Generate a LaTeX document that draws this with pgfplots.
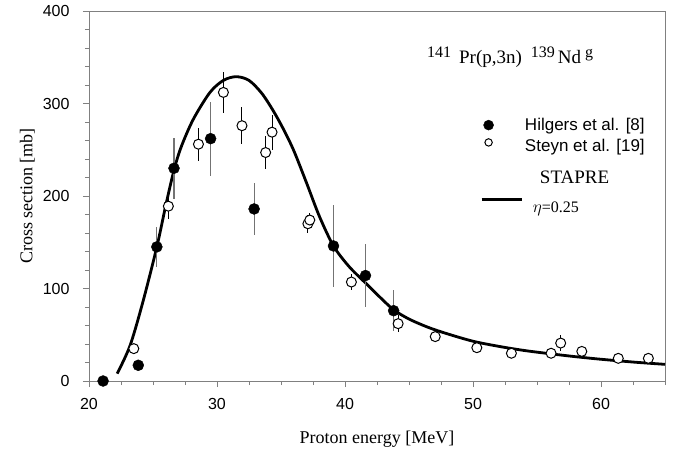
\documentclass[border=0pt]{standalone}
\usepackage{pgfplots}
\pgfplotsset{compat=1.18}
\usepackage{fontspec}
\setmainfont{Liberation Serif}
\newfontfamily\arial{Liberation Sans}

\pgfplotsset{
  legH/.style={legend image code/.code={\draw[##1, mark size=5pt] plot coordinates {(7pt,0pt)};}},
  legS/.style={legend image code/.code={\draw[##1, mark size=3.7pt] plot coordinates {(7pt,0pt)};}},
  legL/.style={legend image code/.code={\draw[##1] (0pt,0pt) -- (40pt,0pt);}},
}

\pgfplotstableread{
x y e
21.1 0 0
23.85 17 0
25.3 145 22
26.64 230 33
29.5 262 40
32.9 186 28
39.1 146 44
41.6 114 34
43.8 76 22
}\hilgers

\pgfplotstableread{
x y e
23.5 35 0
26.2 189 14
28.55 256 18
30.5 312 22
31.95 276 20
33.8 247 18
34.3 269 19
37.1 170 10
37.25 174 8
40.5 107 9
44.15 62 9
47.05 48 0
50.3 36 0
53.0 30 0
56.1 30 0
56.85 41 9
58.5 32 0
61.35 24.5 0
63.7 24.5 0
}\steyn

\newcommand\sups[1]{\raisebox{0.32em}{\fontsize{16}{16}\selectfont #1}}

\begin{document}
\begin{tikzpicture}
\useasboundingbox (-89pt,-72pt) rectangle (587pt,381pt);
\begin{axis}[
  at={(0pt,0pt)}, anchor=south west,
  scale only axis, width=576pt, height=370pt,
  xmin=20, xmax=65, ymin=0, ymax=400,
  xtick={20,30,40,50,60},
  minor xtick={22.5,25,27.5,32.5,35,37.5,42.5,45,47.5,52.5,55,57.5,62.5,65},
  ytick={0,100,200,300,400},
  minor ytick={20,40,60,80,120,140,160,180,220,240,260,280,320,340,360,380},
  tick align=outside, xtick pos=bottom, ytick pos=left,
  axis line style={gray, line width=0.9pt},
  tick style={gray, line width=0.9pt},
  major tick length=6pt, minor tick length=4pt,
  ticklabel style={font=\arial\fontsize{16}{16}\selectfont},
  /pgf/number format/assume math mode=true,
  xticklabel style={yshift=-8pt},
  yticklabel style={xshift=-10pt},
  xlabel={Proton energy [MeV]}, ylabel={Cross section [mb]},
  label style={font=\fontsize{18}{18}\selectfont},
  xlabel style={yshift=-14pt}, ylabel style={yshift=1pt},
  clip=false,
  legend style={at={(rel axis cs:0.6788,0.7108)}, anchor=north west,
    draw=none, fill=none, inner sep=0pt, row sep=0pt, column sep=2pt,
    nodes={inner sep=0pt}},
  legend cell align=left,
]
\addplot[black, line width=2.8pt, smooth, forget plot] coordinates {
(22.2,8) (23.2,38) (24.2,85) (25.3,145) (26.0,190) (26.64,228) (27.2,253)
(28.15,283) (29.45,312) (30.5,325) (31.5,329) (32.5,325) (33.5,311)
(34.4,292) (35.2,272) (36.0,249) (37.0,214) (38.0,178) (39.1,146)
(40.3,124) (41.6,106) (42.7,91) (43.8,77) (45.0,67) (46.5,58) (48,51)
(50,43) (52,37.5) (54,33) (56,29.5) (58,26.3) (60,23.5) (62.5,20.5) (65,18)
};
\addplot[only marks, mark=*, mark size=5.5pt, black, legH,
  error bars/.cd, y dir=both, y explicit, error mark=none,
  error bar style={gray!90!black, line width=1.2pt}]
  table[x=x, y=y, y error=e] {\hilgers};
\addlegendentry{\arial\fontsize{17}{17}\selectfont\rule[-4pt]{0pt}{16pt}Hilgers et al. [8]}
\addplot[only marks, mark=*, mark size=5pt, black, mark options={fill=white, line width=1pt}, legS,
  error bars/.cd, y dir=both, y explicit, error mark=none,
  error bar style={black, line width=1pt}]
  table[x=x, y=y, y error=e] {\steyn};
\addlegendentry{\arial\fontsize{17}{17}\selectfont\rule[-4pt]{0pt}{23.3pt}Steyn et al. [19]}
\addlegendimage{empty legend}
\addlegendentry{\fontsize{19}{19}\selectfont\rule[-4pt]{0pt}{35pt}\hspace*{15pt}STAPRE}
\addlegendimage{black, line width=2.8pt, legL}
\addlegendentry{\fontsize{16}{16}\selectfont\rule[-4pt]{0pt}{31.5pt}\hspace*{8pt}$\eta$=0.25}
\node[anchor=base west, inner sep=0pt, font=\fontsize{19}{19}\selectfont]
  at (axis cs:46.4,343) {\sups{141}\hspace{8pt}Pr(p,3n)\hspace{9pt}\sups{139}\hspace{3pt}Nd\hspace{4pt}\sups{g}};
\end{axis}
\end{tikzpicture}
\end{document}
